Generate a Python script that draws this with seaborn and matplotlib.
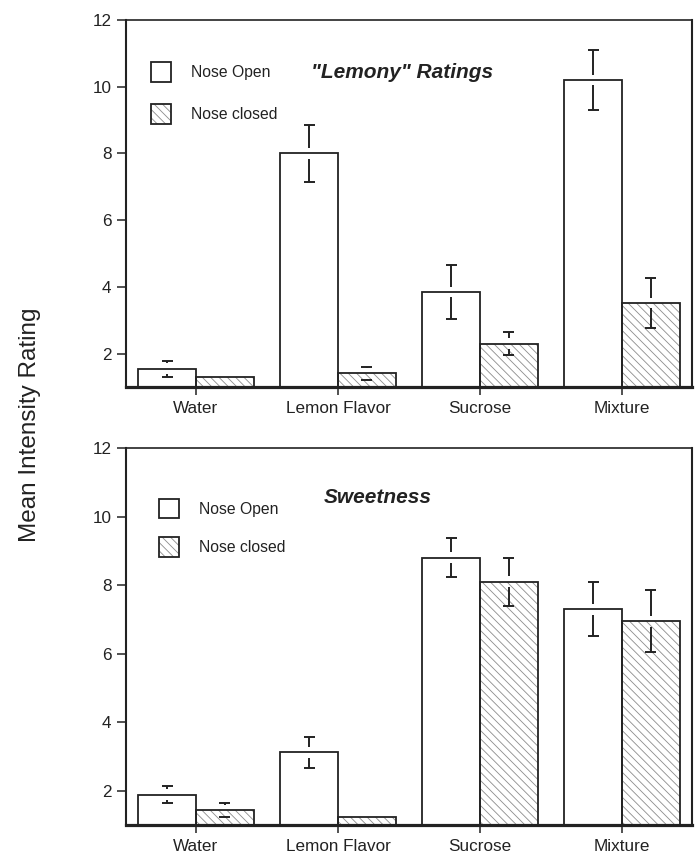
import numpy as np
import pandas as pd
import matplotlib
matplotlib.use("Agg")
import matplotlib.pyplot as plt
import seaborn as sns
from matplotlib.patches import Patch, Rectangle

# ---------------- data ----------------
stimuli = ["Water", "Lemon Flavor", "Sucrose", "Mixture"]
conditions = ["Nose Open", "Nose closed"]

lemony_open = [1.55, 8.0, 3.85, 10.2]
lemony_open_err = [0.24, 0.85, 0.82, 0.9]
lemony_closed = [1.29, 1.41, 2.3, 3.52]
lemony_closed_err = [0.0, 0.19, 0.35, 0.76]

sweet_open = [1.88, 3.12, 8.8, 7.3]
sweet_open_err = [0.25, 0.45, 0.57, 0.78]
sweet_closed = [1.43, 1.23, 8.1, 6.95]
sweet_closed_err = [0.21, 0.0, 0.7, 0.9]

y_ticks = [2, 4, 6, 8, 10, 12]
titles = ['"Lemony" Ratings', "Sweetness"]
y_label = "Mean Intensity Rating"

# ---------------- style ----------------
sns.set_style("white")
plt.rcParams["font.family"] = ["Liberation Sans", "DejaVu Sans"]
plt.rcParams["hatch.linewidth"] = 0.6
INK = "#222222"
HATCH = "#8c8c8c"
HATCH_PAT = "\\\\\\\\"

fig = plt.figure(figsize=(6.99, 8.58), dpi=100)
ax_top = fig.add_axes([126 / 699, 1 - 387 / 858, 566 / 699, 367 / 858])
ax_bot = fig.add_axes([126 / 699, 1 - 825 / 858, 566 / 699, 377 / 858])


def panel(ax, open_vals, open_err, closed_vals, closed_err, title, title_pos, leg_anchor, leg_spacing):
    df = pd.DataFrame({
        "stimulus": stimuli * 2,
        "condition": [conditions[0]] * len(stimuli) + [conditions[1]] * len(stimuli),
        "rating": list(open_vals) + list(closed_vals),
        "err": list(open_err) + list(closed_err),
    })
    sns.barplot(data=df, x="stimulus", y="rating", hue="condition",
                order=stimuli, hue_order=conditions,
                palette=["white", "white"], saturation=1, width=0.81,
                edgecolor=HATCH, linewidth=0, errorbar=None, legend=False, ax=ax)

    bars = list(ax.patches)
    for p in bars:
        cx = p.get_x() + p.get_width() / 2
        idx = int(round(cx))
        closed = cx > idx
        if closed:
            p.set_hatch(HATCH_PAT)
            p.set_edgecolor(HATCH)
        ax.add_patch(Rectangle((p.get_x(), p.get_y()), p.get_width(), p.get_height(),
                               fill=False, edgecolor=INK, lw=1.3, zorder=p.get_zorder() + 0.1))
        row = df[(df.stimulus == stimuli[idx]) & (df.condition == conditions[int(closed)])].iloc[0]
        top, err = row.rating, row.err
        gap, cap = 0.16, 0.038
        if err > gap:
            ax.vlines(cx, top + gap, top + err, color=INK, lw=1.4, zorder=5)
            ax.vlines(cx, top - err, top - gap, color=INK, lw=1.4, zorder=5)
            ax.hlines([top + err, top - err], cx - cap, cx + cap, color=INK, lw=1.4, zorder=5)

    ax.set_xlim(-0.493, 3.493)
    ax.set_ylim(1, 12)
    ax.set_yticks(y_ticks)
    ax.set_xlabel("")
    ax.set_ylabel("")
    for side, lw in [("left", 1.5), ("right", 1.5), ("top", 1.2), ("bottom", 2.3)]:
        ax.spines[side].set_visible(True)
        ax.spines[side].set_color(INK)
        ax.spines[side].set_linewidth(lw)
    ax.tick_params(axis="both", direction="out", length=6.5, width=1.1, color=INK,
                   labelcolor=INK, labelsize=12.3, pad=4)
    ax.tick_params(axis="x", bottom=True, length=6)
    ax.tick_params(axis="y", left=True)

    ax.text(title_pos[0], title_pos[1], title, transform=ax.transAxes, ha="center", va="center",
            fontsize=15, fontweight="bold", fontstyle="italic", color=INK)

    h_open = Patch(facecolor="white", edgecolor=INK, lw=1.3)
    h_hatch = Patch(facecolor="white", edgecolor=HATCH, hatch=HATCH_PAT, lw=0)
    h_outline = Patch(facecolor="none", edgecolor=INK, lw=1.3)
    ax.legend(handles=[h_open, (h_hatch, h_outline)], labels=conditions,
              loc="upper left", bbox_to_anchor=leg_anchor, frameon=False,
              fontsize=11.3, handlelength=1.3, handleheight=1.53, handletextpad=1.25,
              labelspacing=leg_spacing, borderpad=0, borderaxespad=0, labelcolor=INK)


panel(ax_top, lemony_open, lemony_open_err, lemony_closed, lemony_closed_err,
      titles[0], (0.488, 0.858), (0.044, 0.885), 1.45)
panel(ax_bot, sweet_open, sweet_open_err, sweet_closed, sweet_closed_err,
      titles[1], (0.445, 0.870), (0.058, 0.865), 1.2)

fig.text(30 / 699, 1 - 425 / 858, y_label, rotation=90, ha="center", va="center",
         fontsize=17.5, color=INK)

fig.savefig("out.png", dpi=100)
